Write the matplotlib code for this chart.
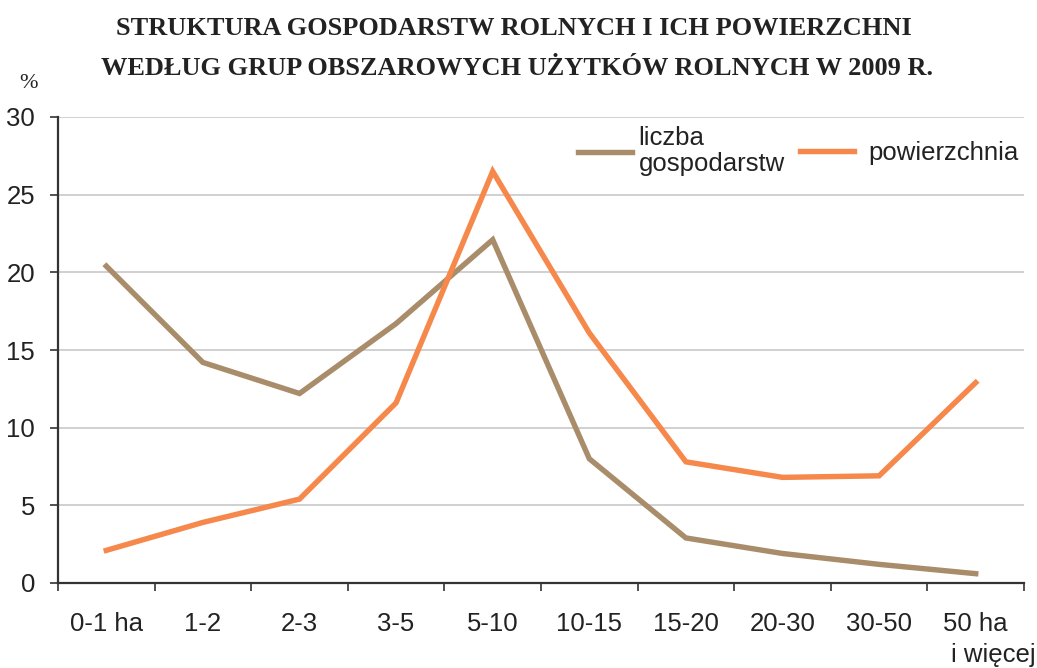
import matplotlib
matplotlib.use("Agg")
import matplotlib.pyplot as plt
import numpy as np

categories = ["0-1 ha", "1-2", "2-3", "3-5", "5-10", "10-15", "15-20", "20-30", "30-50", "50 ha"]
extra_label = "i więcej"
liczba = [20.4, 14.2, 12.2, 16.7, 22.1, 8.0, 2.9, 1.9, 1.2, 0.6]
powierzchnia = [2.1, 3.9, 5.4, 11.6, 26.5, 16.1, 7.8, 6.8, 6.9, 12.9]
yticks = [0, 5, 10, 15, 20, 25, 30]
title1 = "STRUKTURA GOSPODARSTW ROLNYCH I ICH POWIERZCHNI"
title2 = "WEDŁUG GRUP OBSZAROWYCH UŻYTKÓW ROLNYCH W 2009 R."

C_BROWN = "#A98D6B"
C_ORANGE = "#F5884A"
TXT = "#222222"
SANS = ["Liberation Sans", "DejaVu Sans"]
SERIF = ["Liberation Serif", "DejaVu Serif"]
FS = 18.5

W, H = 1037, 668
fig = plt.figure(figsize=(W / 100, H / 100), dpi=100)
ax = fig.add_axes([58 / W, 85 / H, (1024 - 58) / W, (583 - 117) / H])

x = np.arange(len(categories))
l1, = ax.plot(x, liczba, color=C_BROWN, lw=3.9, solid_joinstyle="miter")
l2, = ax.plot(x, powierzchnia, color=C_ORANGE, lw=3.9, solid_joinstyle="miter")

ax.set_xlim(-0.5, len(categories) - 0.5)
ax.set_ylim(0, 30)
ax.set_yticks(yticks)
ax.set_yticklabels([str(v) for v in yticks], fontfamily=SANS, fontsize=FS, color=TXT)
ax.yaxis.grid(True, color="#c8c8c8", lw=1.2)
ax.set_axisbelow(True)

ax.set_xticks(x)
ax.set_xticklabels(categories, fontfamily=SANS, fontsize=FS, color=TXT)
ax.set_xticks(np.arange(-0.5, len(categories)), minor=True)
ax.tick_params(axis="x", which="major", length=0, pad=21)
ax.tick_params(axis="x", which="minor", length=6, width=1.2, color="#333333", direction="out")
ax.tick_params(axis="y", length=6, width=1.2, color="#333333", pad=10.5)

ax.text(len(categories) - 1 + 0.18, -(662 - 583) / 466, extra_label, transform=ax.get_xaxis_transform(),
        ha="center", va="baseline", fontfamily=SANS, fontsize=FS, color=TXT)

for s in ["top", "right"]:
    ax.spines[s].set_visible(False)
for s in ["left", "bottom"]:
    ax.spines[s].set_color("#333333")
    ax.spines[s].set_linewidth(1.6)

def px2ax(px, py):
    return ((px - 58) / 966, (583 - py) / 466)

leg1 = ax.legend([l1], ["liczba\ngospodarstw"], loc="center left", bbox_to_anchor=px2ax(578, 151),
                 frameon=False, prop={"family": SANS, "size": FS}, handlelength=2.1,
                 handletextpad=0.25, borderpad=0, borderaxespad=0)
leg1.get_texts()[0].set_linespacing(1.1)
ax.add_artist(leg1)
leg2 = ax.legend([l2], ["powierzchnia"], loc="center left", bbox_to_anchor=px2ax(800, 153),
                 frameon=False, prop={"family": SANS, "size": FS}, handlelength=2.1,
                 handletextpad=0.55, borderpad=0, borderaxespad=0)
for lg in (leg1, leg2):
    for t in lg.get_texts():
        t.set_color(TXT)

fig.text(514 / W, 1 - 35 / H, title1, ha="center", va="baseline", fontfamily=SERIF,
         fontweight="bold", fontsize=19, color=TXT)
fig.text(517 / W, 1 - 75 / H, title2, ha="center", va="baseline", fontfamily=SERIF,
         fontweight="bold", fontsize=19, color=TXT)
fig.text(28 / W, 1 - 88 / H, "%", ha="center", va="baseline", fontfamily=SERIF,
         fontsize=16, color=TXT)

fig.savefig("out.png", dpi=100)
